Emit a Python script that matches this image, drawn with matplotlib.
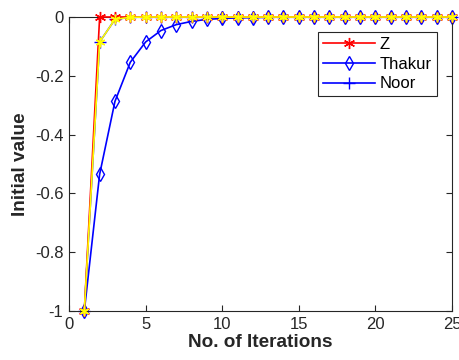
import matplotlib
matplotlib.use("Agg")
import matplotlib.pyplot as plt

iterations = list(range(1, 26))
z_vals = [-1.0, 0.0] + [0.0] * 23
thakur_vals = [-1.0, -0.535, -0.287, -0.154, -0.085, -0.046, -0.026, -0.015,
               -0.008, -0.005, -0.003, -0.002, -0.001] + [0.0] * 12
noor_vals = [-1.0, -0.085, -0.008, -0.001] + [0.0] * 21

plt.rcParams['font.family'] = ['Liberation Sans', 'DejaVu Sans']
fig = plt.figure(figsize=(4.6, 3.6), dpi=100)
ax = fig.add_axes([69/460, 1 - 311/360, (452-69)/460, (311-17)/360])

ast = (6, 2, 0)
ax.plot(iterations, z_vals, color='red', marker=ast, markersize=8, lw=1.2,
        label='Z', zorder=3, clip_on=False)
ax.plot(iterations, thakur_vals, color='blue', marker='d', markersize=7.5, lw=1.2,
        markerfacecolor='none', label='Thakur', zorder=2, clip_on=False)
ax.plot(iterations, noor_vals, color='blue', marker='+', markersize=8, lw=1.2,
        label='Noor', zorder=2.5, clip_on=False)
ax.plot(iterations, noor_vals, color='yellow', marker=ast, markersize=7, lw=1.2,
        zorder=4, clip_on=False)

ax.set_xlim(0, 25)
ax.set_ylim(-1, 0)
ax.set_xticks([0, 5, 10, 15, 20, 25])
ax.set_yticks([-1, -0.8, -0.6, -0.4, -0.2, 0])
ax.set_yticklabels(['-1', '-0.8', '-0.6', '-0.4', '-0.2', '0'])
ax.tick_params(direction='in', labelsize=12, colors='#262626', length=4,
               top=True, right=True, pad=4)
for s in ax.spines.values():
    s.set_color('#262626')
    s.set_linewidth(0.8)

ax.set_xlabel('No. of Iterations', fontsize=13.7, fontweight='bold', color='#262626',
              labelpad=2)
ax.set_ylabel('Initial value', fontsize=13.7, fontweight='bold', color='#262626',
              labelpad=4)

leg = ax.legend(loc='upper right', bbox_to_anchor=(437/460, 1 - 32/360),
                bbox_transform=fig.transFigure, fontsize=12,
                fancybox=False, framealpha=1, edgecolor='#262626',
                handlelength=3.1, borderpad=0.3, labelspacing=0.28, handletextpad=0.3,
                borderaxespad=0)
leg.get_frame().set_linewidth(0.8)

fig.savefig('out.png', dpi=100)
